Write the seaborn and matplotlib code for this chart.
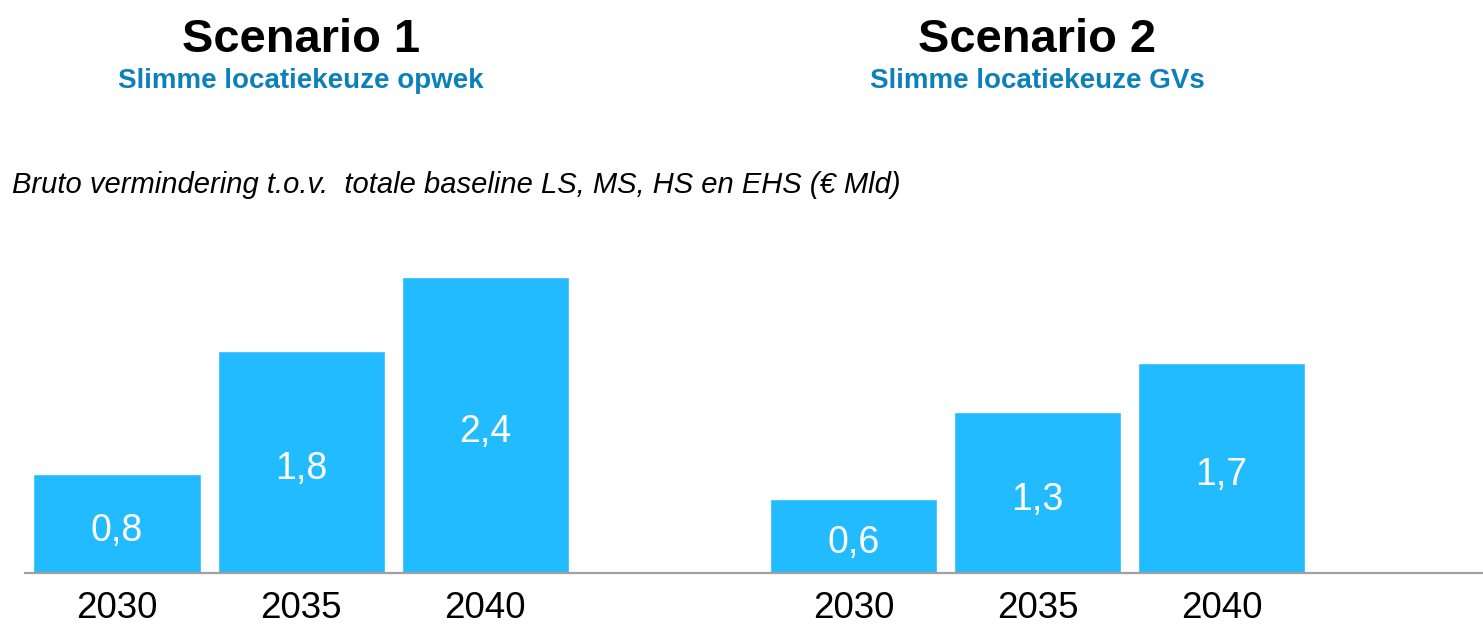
import matplotlib
matplotlib.use("Agg")
import matplotlib.pyplot as plt
import seaborn as sns
import pandas as pd

# Data
scenarios = ["Scenario 1", "Scenario 2"]
subtitles = ["Slimme locatiekeuze opwek", "Slimme locatiekeuze GVs"]
years = ["2030", "2035", "2040"]
scenario1_values = [0.8, 1.8, 2.4]
scenario2_values = [0.6, 1.3, 1.7]
axis_caption = "Bruto vermindering t.o.v.  totale baseline LS, MS, HS en EHS (€ Mld)"

BAR_COLOR = "#22BBFF"
SUB_COLOR = "#0B80BB"

sns.set_theme(style="white")
plt.rcParams["font.family"] = ["Liberation Sans", "DejaVu Sans"]

# Bar positions: one empty slot between the two scenario groups
positions = [0, 1, 2, 4, 5, 6]
df = pd.DataFrame({
    "pos": positions,
    "year": years + years,
    "value": scenario1_values + scenario2_values,
})

fig = plt.figure(figsize=(14.83, 6.28), dpi=100)
ax_left_px, ax_right_px = 25, 1483
base_px, top_px = 573, 202.5
W, H = 1483, 628
ax = fig.add_axes([ax_left_px / W, (H - base_px) / H,
                   (ax_right_px - ax_left_px) / W, (base_px - top_px) / H])

sns.barplot(data=df, x="pos", y="value", native_scale=True, width=0.908,
            color=BAR_COLOR, saturation=1, ax=ax)

ax.set_xlim(-0.5, 7.42)
ax.set_ylim(0, 3.0)

# Value labels in the middle of each bar
for patch, v in zip(ax.patches, df["value"]):
    xc = patch.get_x() + patch.get_width() / 2
    ax.annotate(f"{v:.1f}".replace(".", ","), (xc, patch.get_height() / 2),
                xytext=(0, -5), textcoords="offset points",
                ha="center", va="center", color="white", fontsize=27)

ax.set_xticks(positions)
ax.set_xticklabels(df["year"], fontsize=26.5, color="black")
ax.tick_params(axis="x", length=0, pad=13)
ax.set_yticks([])
ax.set_xlabel("")
ax.set_ylabel("")
for side in ["left", "top", "right"]:
    ax.spines[side].set_visible(False)
ax.spines["bottom"].set_color("#A0A0A0")
ax.spines["bottom"].set_linewidth(1.6)

# Scenario headings above each group
group_centers = [1, 5]
for center, title, sub in zip(group_centers, scenarios, subtitles):
    xfig = fig.transFigure.inverted().transform(ax.transData.transform((center, 0)))[0]
    fig.text(xfig, 1 - 52 / H, title, ha="center", va="baseline",
             fontsize=33.8, fontweight="bold", color="black")
    fig.text(xfig, 1 - 88 / H, sub, ha="center", va="baseline",
             fontsize=20, fontweight="bold", color=SUB_COLOR)

fig.text(12 / W, 1 - 193 / H, axis_caption, ha="left", va="baseline",
         fontsize=21, fontstyle="italic", color="black")

fig.savefig("out.png", dpi=100, facecolor="white")
